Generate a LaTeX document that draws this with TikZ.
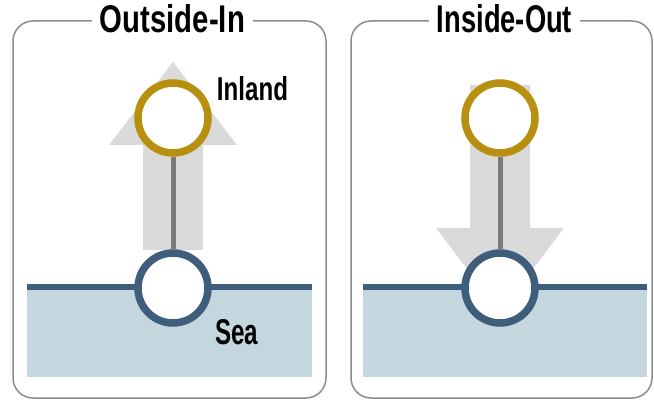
\documentclass[tikz,border=0pt]{standalone}
\usepackage{fontspec}
\setmainfont{Liberation Sans}
\usetikzlibrary{positioning}
\definecolor{ringgold}{HTML}{B8900F}
\definecolor{seablue}{HTML}{3E5E7C}
\definecolor{seafill}{HTML}{C4D7DF}
\definecolor{arrowgrey}{HTML}{DADADA}
\definecolor{stemgrey}{HTML}{7A7A7A}
\definecolor{framegrey}{HTML}{8C8C8C}

\begin{document}
\begin{tikzpicture}[x=1pt,y=-1pt,every node/.style={inner sep=0pt},
  panel/.style={draw=framegrey,line width=1.5pt,rounded corners=20pt},
  paneltitle/.style={fill=white,inner xsep=8pt,inner ysep=2pt},
  ring/.style={circle,fill=white,line width=7.5pt,minimum size=70pt},
  stem/.style={draw=stemgrey,line width=5pt}]
  \useasboundingbox (0,0) rectangle (654,409);

  \foreach \l/\r/\tx/\name/\title/\tw in {13/326/172.5/outsidein/Outside-In/145,351/652/504.5/insideout/Inside-Out/135}{
    \draw[panel] (\l,21) rectangle (\r,398);
    \node[paneltitle] (\name) at (\tx,19) {\resizebox{\tw pt}{28pt}{\bfseries \title}};
  }

  \foreach \l/\r in {27/312,363/647}{
    \fill[seafill] (\l,287) rectangle (\r,377);
    \draw[seablue,line width=6pt] (\l,287) -- (\r,287);
  }

  % up arrow and down arrow
  \fill[arrowgrey] (143,250) -- (143,145) -- (109,145) -- (173,62) -- (237,145) -- (203,145) -- (203,250) -- cycle;
  \fill[arrowgrey] (470,85) -- (470,228) -- (436,228) -- (500,312) -- (564,228) -- (530,228) -- (530,85) -- cycle;

  \foreach \i/\cx in {1/173,2/500}{
    \node[ring,draw=ringgold] (inland\i) at (\cx,118) {};
    \node[ring,draw=seablue] (sea\i) at (\cx,288) {};
    \draw[stem] (inland\i) -- (sea\i);
  }

  \node (inlandlabel) at (252.5,88.5) {\resizebox{71pt}{24pt}{\bfseries Inland}};
  \node (sealabel) at (236.5,332.5) {\resizebox{43pt}{25pt}{\bfseries Sea}};
\end{tikzpicture}
\end{document}
